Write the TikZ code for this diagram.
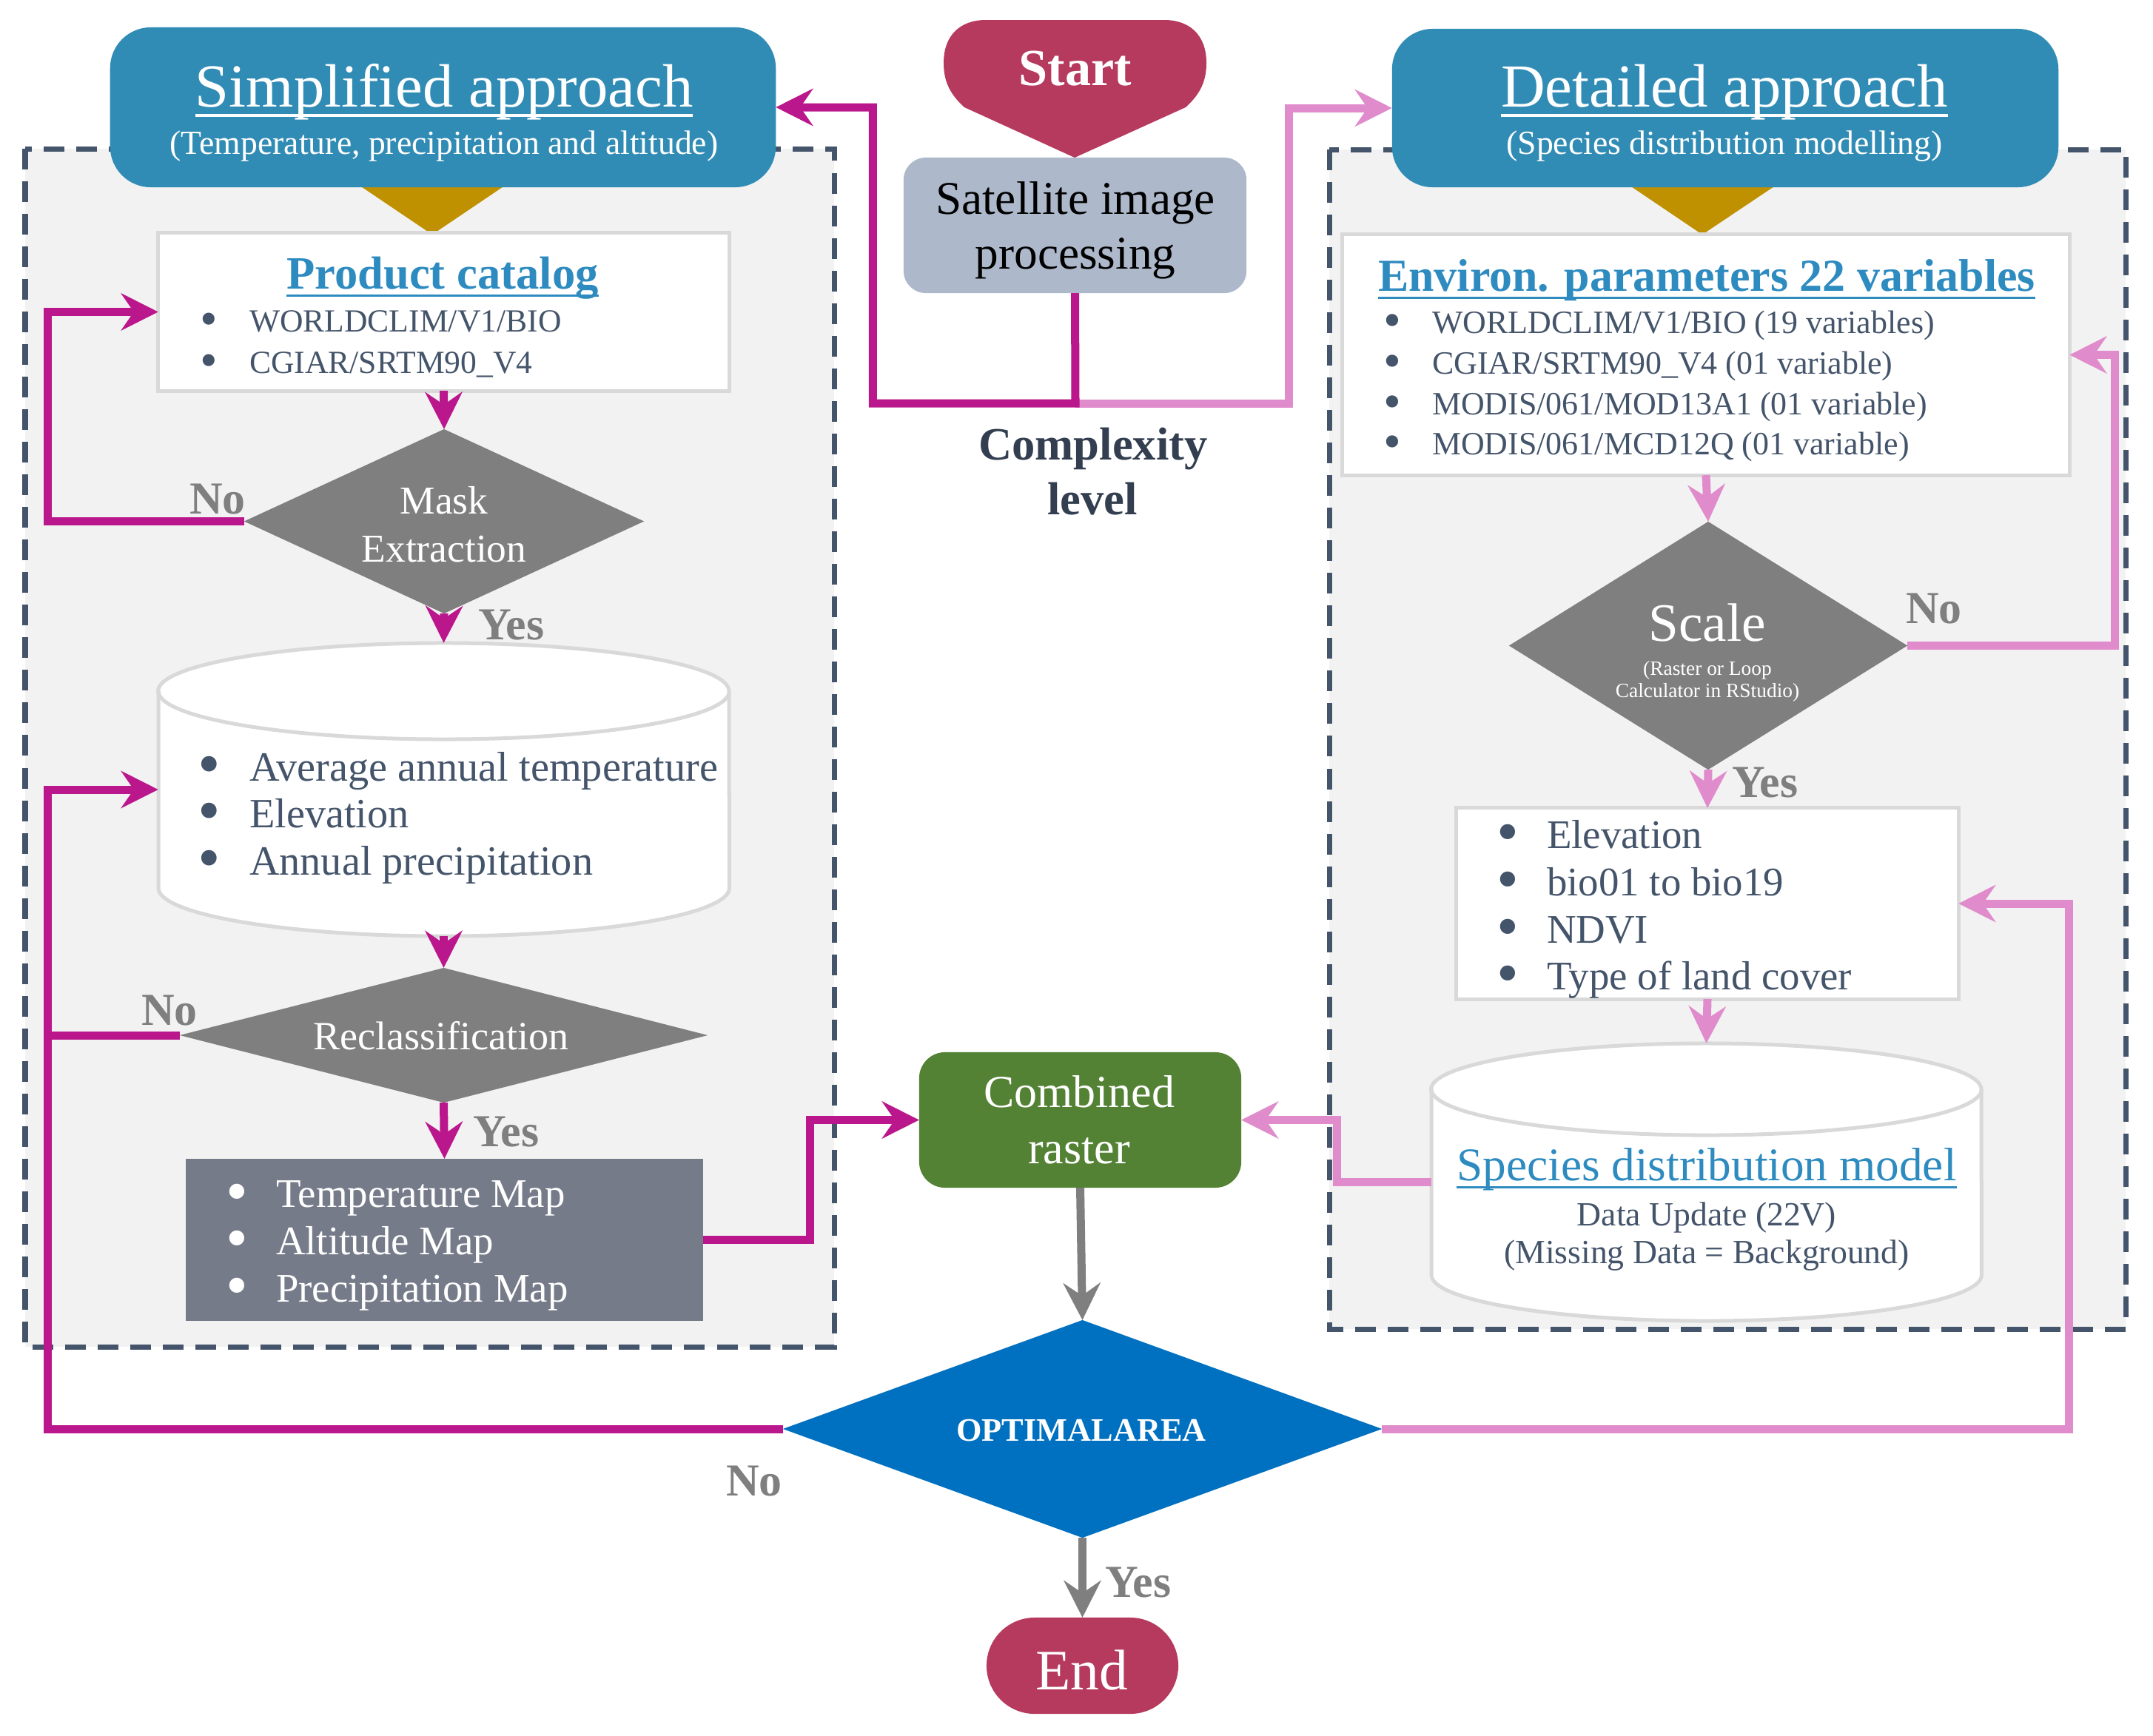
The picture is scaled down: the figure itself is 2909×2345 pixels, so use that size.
\documentclass[tikz,border=0pt]{standalone}
\usepackage{fontspec}
\usepackage{graphicx}
\setmainfont{Liberation Serif}
\usetikzlibrary{arrows.meta,shapes.geometric,calc}
\definecolor{hdrblue}{RGB}{49,140,181}
\definecolor{gold}{RGB}{191,144,0}
\definecolor{startred}{RGB}{182,57,94}
\definecolor{satgray}{RGB}{173,185,202}
\definecolor{panelfill}{RGB}{242,242,242}
\definecolor{dashc}{RGB}{68,84,106}
\definecolor{boxline}{RGB}{217,217,217}
\definecolor{txtdark}{RGB}{68,84,106}
\definecolor{cpxdark}{RGB}{51,63,80}
\definecolor{linkblue}{RGB}{46,139,192}
\definecolor{dgray}{RGB}{127,127,127}
\definecolor{mapgray}{RGB}{118,123,138}
\definecolor{cgreen}{RGB}{84,130,53}
\definecolor{optblue}{RGB}{0,112,192}
\definecolor{cmag}{RGB}{187,23,141}
\definecolor{cpink}{RGB}{224,140,204}
\newcommand{\fs}[1]{\fontsize{#1}{#1}\selectfont}
\newcommand{\ulx}[1]{\setbox0=\hbox{#1}\rlap{\rule[-0.175em]{\wd0}{0.05em}}\box0}
\newcommand{\bl}[2]{\makebox[#1][l]{\smash{\raisebox{-0.12em}{\scalebox{1.55}{\textbullet}}}}#2}
\tikzset{
  every node/.style={inner sep=0pt, outer sep=0pt},
  panelst/.style={fill=panelfill, draw=dashc, line width=0.07cm, dash pattern=on 0.28cm off 0.16cm},
  hdr/.style={fill=hdrblue, rounded corners=0.55cm},
  wbox/.style={fill=white, draw=boxline, line width=0.05cm},
  dia/.style={diamond, draw=none},
  cylst/.style={fill=white, draw=boxline, line width=0.05cm},
  conn/.style={line width=0.11cm, -{Stealth[length=0.5cm,width=0.5cm,inset=0.17cm]}},
  mag/.style={conn, draw=cmag},
  magl/.style={line width=0.11cm, draw=cmag},
  pnk/.style={conn, draw=cpink},
  gry/.style={conn, draw=dgray},
  lbl/.style={anchor=base west, text=dgray, font={\bfseries\fs{17.6}}},
  ttl/.style={anchor=base},
  itm/.style={anchor=base west, text=txtdark, text height=0.7em, text depth=0.2em},
}
\begin{document}
\begin{tikzpicture}[x=0.01cm, y=-0.01cm]
\useasboundingbox (0,0) rectangle (2909,2345);
\fill[white] (0,0) rectangle (2909,2345);

% panels
\draw[panelst] (34,201) rectangle (1127,1820);
\draw[panelst] (1796,202) rectangle (2872,1796);

% gold triangles
\fill[gold] (470,240) -- (698,240) -- (584,317) -- cycle;
\fill[gold] (2186,240) -- (2415,240) -- (2300,317) -- cycle;

% header boxes
\node[hdr, minimum width=8.99cm, minimum height=2.16cm] (simp) at (598.5,145) {};
\node[ttl, text=white, font={\fs{23.5}}] (simpt) at (600,144) {\ulx{Simplified approach}};
\node[ttl, text=white, font={\fs{13}}] (simps) at (600,208) {(Temperature, precipitation and altitude)};

\node[hdr, minimum width=9.0cm, minimum height=2.14cm] (det) at (2331,146) {};
\node[ttl, text=white, font={\fs{23.5}}] (dett) at (2330,144) {\ulx{Detailed approach}};
\node[ttl, text=white, font={\fs{13}}] (dets) at (2330,208) {(Species distribution modelling)};

% start
\fill[startred] (1303,145) .. controls (1282,126) and (1275,108) .. (1275,85)
  .. controls (1275,48) and (1297,27) .. (1332,27) -- (1573,27)
  .. controls (1608,27) and (1630,48) .. (1630,85)
  .. controls (1630,108) and (1623,126) .. (1602,145) -- (1452,213) -- cycle;
\node[ttl, text=white, font={\bfseries\fs{20}}] (start) at (1453,115) {Start};

% satellite
\node[fill=satgray, rounded corners=0.3cm, minimum width=4.63cm, minimum height=1.83cm] (sat) at (1452.5,304.5) {};
\node[ttl, text=black, font={\fs{18}}] (sat1) at (1453,289) {Satellite image};
\node[ttl, text=black, font={\fs{18}}] (sat2) at (1453,363) {processing};

% complexity
\node[ttl, text=cpxdark, font={\bfseries\fs{17.8}}] (cpx1) at (1477,621) {Complexity};
\node[ttl, text=cpxdark, font={\bfseries\fs{17.8}}] (cpx2) at (1476,695.5) {level};

% product catalog
\node[wbox, minimum width=7.71cm, minimum height=2.13cm] (prod) at (599.5,421.5) {};
\node[ttl, text=linkblue, font={\bfseries\fs{17.8}}] (prodt) at (598,390) {\ulx{Product catalog}};
\node[itm, font={\fs{12.4}}] (pc1) at (270,448) {\bl{0.67cm}{WORLDCLIM/V1/BIO}};
\node[itm, font={\fs{12.4}}] (pc2) at (270,504) {\bl{0.67cm}{CGIAR/SRTM90\_V4}};

% mask extraction
\node[dia, fill=dgray, minimum width=5.40cm, minimum height=2.49cm] (mask) at (600,704.5) {};
\node[ttl, text=white, font={\fs{15.2}}] (mask1) at (600,694.5) {Mask};
\node[ttl, text=white, font={\fs{15.2}}] (mask2) at (600,759) {Extraction};
\node[lbl] (nomask) at (256,694.5) {No};
\node[lbl] (yesmask) at (646,864) {Yes};

% cylinder 1
\draw[cylst] (214,934) -- (214,1200) arc[start angle=180, end angle=360, x radius=3.855cm, y radius=0.65cm]
  -- (985,934) arc[start angle=0, end angle=180, x radius=3.855cm, y radius=0.65cm] -- cycle;
\draw[boxline, line width=0.05cm] (214,934) arc[start angle=180, end angle=360, x radius=3.855cm, y radius=0.65cm];
\node[minimum width=7.71cm, minimum height=3.96cm] (cyl1) at (599.5,1067) {};
\node[itm, font={\fs{16}}] (cy1) at (267,1055) {\bl{0.70cm}{Average annual temperature}};
\node[itm, font={\fs{16}}] (cy2) at (267,1118) {\bl{0.70cm}{Elevation}};
\node[itm, font={\fs{16}}] (cy3) at (267,1182) {\bl{0.70cm}{Annual precipitation}};

% reclassification
\node[dia, fill=dgray, minimum width=7.13cm, minimum height=1.82cm] (recl) at (599.5,1399) {};
\node[ttl, text=white, font={\fs{15.4}}] (reclt) at (596,1418) {Reclassification};
\node[lbl] (norecl) at (191,1385) {No};
\node[lbl] (yesrecl) at (639,1549) {Yes};

% maps
\node[fill=mapgray, minimum width=6.99cm, minimum height=2.19cm] (maps) at (600.5,1675.5) {};
\node[itm, text=white, font={\fs{15.6}}] (mp1) at (305,1631.5) {\bl{0.68cm}{Temperature Map}};
\node[itm, text=white, font={\fs{15.6}}] (mp2) at (305,1695) {\bl{0.68cm}{Altitude Map}};
\node[itm, text=white, font={\fs{15.6}}] (mp3) at (305,1759) {\bl{0.68cm}{Precipitation Map}};

% combined raster
\node[fill=cgreen, rounded corners=0.35cm, minimum width=4.35cm, minimum height=1.83cm] (comb) at (1459.5,1513.5) {};
\node[ttl, text=white, font={\fs{17.6}}] (comb1) at (1458,1496) {Combined};
\node[ttl, text=white, font={\fs{17.6}}] (comb2) at (1458,1572) {raster};

% optimal area
\node[dia, fill=optblue, minimum width=8.09cm, minimum height=2.94cm] (opt) at (1462.5,1931) {};
\node[ttl, text=white, font={\bfseries\fs{12.6}}] (optt) at (1461,1947) {OPTIMALAREA};
\node[lbl] (noopt) at (981,2021) {No};
\node[lbl] (yesopt) at (1493,2158) {Yes};

% end
\node[fill=startred, rounded corners=0.65cm, minimum width=2.59cm, minimum height=1.30cm] (end) at (1462.5,2251) {};
\node[ttl, text=white, font={\fs{22}}] (endt) at (1462,2283) {End};

% environ parameters
\node[wbox, minimum width=9.82cm, minimum height=3.25cm] (env) at (2305,479.5) {};
\node[ttl, text=linkblue, font={\bfseries\fs{17.6}}] (envt) at (2306,393) {\ulx{Environ. parameters 22 variables}};
\node[itm, font={\fs{12.5}}] (en1) at (1869,450) {\bl{0.66cm}{WORLDCLIM/V1/BIO (19 variables)}};
\node[itm, font={\fs{12.5}}] (en2) at (1869,505) {\bl{0.66cm}{CGIAR/SRTM90\_V4 (01 variable)}};
\node[itm, font={\fs{12.5}}] (en3) at (1869,560) {\bl{0.66cm}{MODIS/061/MOD13A1 (01 variable)}};
\node[itm, font={\fs{12.5}}] (en4) at (1869,614) {\bl{0.66cm}{MODIS/061/MCD12Q (01 variable)}};

% scale
\node[dia, fill=dgray, minimum width=5.38cm, minimum height=3.35cm] (scale) at (2308,872.5) {};
\node[ttl, text=white, font={\fs{20.8}}] (scalet) at (2307,866) {Scale};
\node[ttl, text=white, font={\fs{7.8}}] (scale2) at (2307,912) {(Raster or Loop};
\node[ttl, text=white, font={\fs{7.8}}] (scale3) at (2307,942) {Calculator in RStudio)};
\node[lbl] (noscale) at (2575,842) {No};
\node[lbl] (yesscale) at (2340,1077) {Yes};

% elevation box
\node[wbox, minimum width=6.78cm, minimum height=2.58cm] (elev) at (2307,1221) {};
\node[itm, font={\fs{15.6}}] (el1) at (2022,1146) {\bl{0.68cm}{Elevation}};
\node[itm, font={\fs{15.6}}] (el2) at (2022,1210) {\bl{0.68cm}{bio01 to bio19}};
\node[itm, font={\fs{15.6}}] (el3) at (2022,1274) {\bl{0.68cm}{NDVI}};
\node[itm, font={\fs{15.6}}] (el4) at (2022,1337) {\bl{0.68cm}{Type of land cover}};

% species cylinder
\draw[cylst] (1934,1472) -- (1934,1723) arc[start angle=180, end angle=360, x radius=3.715cm, y radius=0.62cm]
  -- (2677,1472) arc[start angle=0, end angle=180, x radius=3.715cm, y radius=0.62cm] -- cycle;
\draw[boxline, line width=0.05cm] (1934,1472) arc[start angle=180, end angle=360, x radius=3.715cm, y radius=0.62cm];
\node[minimum width=7.43cm, minimum height=3.75cm] (spec) at (2305.5,1597.5) {};
\node[ttl, text=linkblue, font={\fs{18}}] (spect) at (2306,1595) {\ulx{Species distribution model}};
\node[ttl, text=txtdark, font={\fs{13}}] (spec2) at (2306,1656) {Data Update (22V)};
\node[ttl, text=txtdark, font={\fs{13}}] (spec3) at (2306,1707) {(Missing Data = Background)};

% connectors
\coordinate (junc) at (1453,545);
\coordinate (rj) at (65,1399);
\draw[pnk] (junc) -| ([xshift=-1.39cm]det.west) -- (det.west);
\draw[mag] (sat.south) -- (junc) -| ([xshift=1.31cm]simp.east) -- (simp.east);
\draw[mag] (prod.south) -- (mask.north);
\draw[mag] (mask.west) -| ([xshift=-1.49cm]prod.west) -- (prod.west);
\draw[mag] (mask.south) -- (cyl1.north);
\draw[mag] (cyl1.south) -- (recl.north);
\draw[magl] (recl.west) -- (rj);
\draw[mag] (recl.south) -- (maps.north);
\draw[mag] (maps.east) -| ([xshift=-1.47cm]comb.west) -- (comb.west);
\draw[mag] (opt.west) -| ([xshift=-1.49cm]cyl1.west) -- (cyl1.west);
\draw[pnk] (spec.west) -| ([xshift=1.29cm]comb.east) -- (comb.east);
\draw[gry] (comb.south) -- (opt.north);
\draw[gry] (opt.south) -- (end.north);
\draw[pnk] (opt.east) -| ([xshift=1.49cm]elev.east) -- (elev.east);
\draw[pnk] (env.south) -- (scale.north);
\draw[pnk] (scale.east) -| ([xshift=0.61cm]env.east) -- (env.east);
\draw[pnk] (scale.south) -- (elev.north);
\draw[pnk] (elev.south) -- (spec.north);
\end{tikzpicture}
\end{document}
